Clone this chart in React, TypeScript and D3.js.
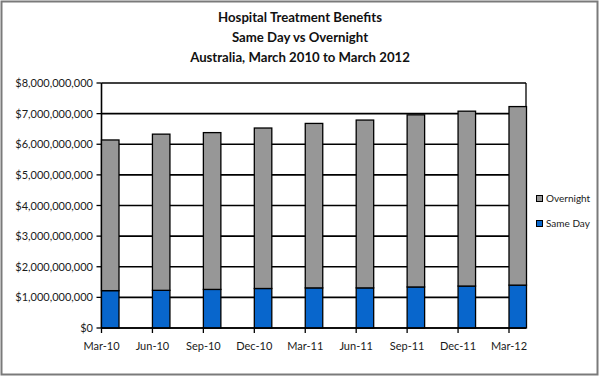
import React from "react";
import * as d3 from "d3";

const categories = ["Mar-10", "Jun-10", "Sep-10", "Dec-10", "Mar-11", "Jun-11", "Sep-11", "Dec-11", "Mar-12"];
const sameDay = [1.22e9, 1.23e9, 1.26e9, 1.29e9, 1.31e9, 1.31e9, 1.34e9, 1.37e9, 1.4e9];
const totals = [6.14e9, 6.33e9, 6.38e9, 6.53e9, 6.68e9, 6.79e9, 6.96e9, 7.08e9, 7.23e9];
const overnight = totals.map((t, i) => t - sameDay[i]);
const yTicks = [0, 1e9, 2e9, 3e9, 4e9, 5e9, 6e9, 7e9, 8e9];
const titleLines = ["Hospital Treatment Benefits", "Same Day vs Overnight", "Australia, March 2010 to March 2012"];
const seriesNames = ["Overnight", "Same Day"];

const W = 600, H = 377;
const FONT = "Lato, 'Open Sans', sans-serif";
const GRAY = "#979797";
const BLUE = "#0866cc";

export default function App() {
  const plotL = 101.5, plotR = 526, plotT = 83, plotB = 328;
  const x = d3.scalePoint<string>().domain(categories).range([plotL, 509]);
  const y = d3.scaleLinear().domain([0, 8e9]).range([plotB, plotT]);
  const barW = 17.5;
  const fmt = (v: number) => "$" + d3.format(",")(v);

  const stackData = categories.map((c, i) => ({ cat: c, sameDay: sameDay[i], overnight: overnight[i] }));
  const stack = d3.stack<any>().keys(["sameDay", "overnight"])(stackData);
  const colors: Record<string, string> = { sameDay: BLUE, overnight: GRAY };

  return (
    <svg width={W} height={H} style={{ position: "absolute", left: 0, top: 0, background: "#fff" }}>
      <rect x={1.5} y={1.5} width={W - 4} height={H - 4} fill="#fff" stroke="#7a7a7a" strokeWidth={2} />
      {titleLines.map((t, i) => (
        <text key={i} x={300} y={22 + i * 20} textAnchor="middle" fontFamily={FONT} fontWeight="bold" fontSize={13.2} fill="#111">
          {t}
        </text>
      ))}
      {yTicks.map((v) => (
        <g key={v}>
          <line x1={plotL} x2={plotR} y1={y(v)} y2={y(v)} stroke="#000" strokeWidth={1.6} />
          <line x1={plotL - 5} x2={plotL} y1={y(v)} y2={y(v)} stroke="#000" strokeWidth={1.3} />
          <text x={93} y={y(v) + 4} textAnchor="end" fontFamily={FONT} fontSize={11} fill="#1a1a1a">
            {fmt(v)}
          </text>
        </g>
      ))}
      <line x1={plotR} x2={plotR} y1={plotT} y2={plotB} stroke="#000" strokeWidth={1.3} />
      <line x1={plotL} x2={plotL} y1={plotT} y2={plotB} stroke="#000" strokeWidth={1.6} />
      {stack.map((layer) => (
        <g key={layer.key}>
          {layer.map((d, i) => (
            <rect
              key={i}
              x={x(categories[i])!}
              y={y(d[1])}
              width={barW}
              height={y(d[0]) - y(d[1])}
              fill={colors[layer.key]}
              stroke="#000"
              strokeWidth={1.3}
            />
          ))}
        </g>
      ))}
      <line x1={plotL} x2={plotR} y1={plotB} y2={plotB} stroke="#000" strokeWidth={1.6} />
      {categories.map((c) => (
        <g key={c}>
          <line x1={x(c)!} x2={x(c)!} y1={plotB} y2={plotB + 5} stroke="#000" strokeWidth={1.3} />
          <text x={x(c)!} y={350} textAnchor="middle" fontFamily={FONT} fontSize={11} fill="#1a1a1a">
            {c}
          </text>
        </g>
      ))}
      {seriesNames.map((n, i) => (
        <g key={n}>
          <rect x={536.5} y={195.5 + i * 25} width={6} height={6} fill={n === "Overnight" ? GRAY : BLUE} stroke="#000" strokeWidth={1} />
          <text x={546} y={202 + i * 25} fontFamily={FONT} fontSize={10} fill="#1a1a1a">
            {n}
          </text>
        </g>
      ))}
    </svg>
  );
}
